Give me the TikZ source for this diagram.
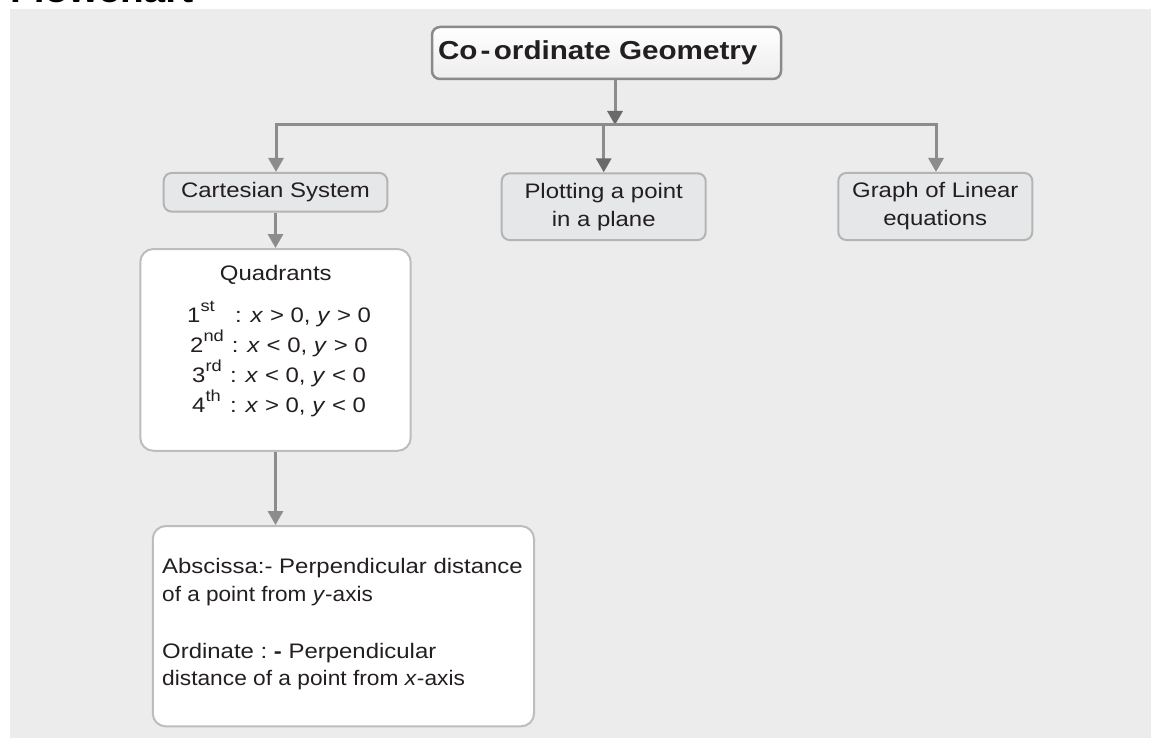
\documentclass[tikz,border=0pt]{standalone}
\usepackage{fontspec}
\usepackage{graphicx}
\setmainfont{Liberation Sans}[FakeStretch=1.14]
\usetikzlibrary{arrows.meta}
\definecolor{bg}{HTML}{ECECEC}
\definecolor{ink}{HTML}{231F20}
\definecolor{ln}{HTML}{8C8C8C}
\definecolor{hd}{HTML}{6A6A6C}
\definecolor{bxfill}{HTML}{E6E7E8}
\definecolor{bxline}{HTML}{B4B4B4}
\definecolor{wline}{HTML}{BDBDBD}
\definecolor{topline}{HTML}{8A8A8A}
\newcommand\ordn[2]{#1\raisebox{11pt}{\fontsize{16}{16}\selectfont #2}}
\begin{document}
\begin{tikzpicture}[x=1pt,y=-1pt,
  every node/.style={text=ink, font=\fontsize{21}{28}\selectfont},
  graybox/.style={draw=bxline, fill=bxfill, line width=2pt, rounded corners=8pt, inner sep=0pt, align=center},
  whitebox/.style={draw=wline, fill=white, line width=2pt, rounded corners=13pt, inner sep=0pt},
  topbox/.style={draw=topline, line width=2.5pt, rounded corners=8pt, top color=white, bottom color=gray!14, inner sep=0pt},
  conn/.style={draw=ln, line width=3pt, line join=miter},
  arr/.style={conn, -{Triangle[width=15pt,length=14pt]}},
  arrd/.style={conn, -{Triangle[width=15pt,length=14pt,color=hd]}},
  txt/.style={inner sep=0pt, anchor=base west}
]
\useasboundingbox (0,0) rectangle (1151,738);
\fill[bg] (10,9) rectangle (1151,738);
\begin{scope}
\clip (0,0) rectangle (1151,738);
\node[txt, text=black, font=\fontsize{34}{34}\selectfont\bfseries] (title) at (10,3) {Flowchart};
\end{scope}

% boxes
\node[topbox, minimum width=349pt, minimum height=52pt] (top) at (606.5,53)
  {\fontsize{26}{26}\selectfont\bfseries\makebox[337pt][l]{Co\kern3pt-\kern3.5pt ordinate Geometry}};
\node[graybox, minimum width=223.6pt, minimum height=38.7pt] (cart) at (275.5,192.3) {Cartesian System};
\node[graybox, minimum width=204pt, minimum height=66.7pt] (plot) at (603.7,206.7) {Plotting a point\\in a plane};
\node[graybox, minimum width=194pt, minimum height=67pt] (graph) at (935.3,206.5) {Graph of Linear\\equations};
\node[whitebox, minimum width=270.4pt, minimum height=201.7pt] (quad) at (275.5,349.9) {};
\node[whitebox, minimum width=381.3pt, minimum height=200.3pt] (absc) at (343.4,626.2) {};

% connectors
\coordinate (j) at (615,125);
\coordinate (hl) at (276,125);
\coordinate (hr) at (936,125);
\draw[arrd] (top.south -| j) -- (j);
\draw[arr] (j) -- (hl) -- (hl |- cart.north);
\draw[arr] (j) -- (hr) -- (hr |- graph.north);
\draw[arrd] (plot.north |- hl) -- (plot.north);
\draw[arr] (cart.south) -- (quad.north);
\draw[arr] (quad.south) -- (quad.south |- absc.north);

% quadrant texts
\node[anchor=base, inner sep=0pt] (qt) at (275.8,280) {Quadrants};
\node[txt] (q1) at (187,322) {\makebox[48pt][l]{\ordn{1}{st}}: \textit{x} > 0, \textit{y} > 0};
\node[txt] (q2) at (190,352.3) {\makebox[41.7pt][l]{\ordn{2}{nd}}: \textit{x} < 0, \textit{y} > 0};
\node[txt] (q3) at (192,382.6) {\makebox[38pt][l]{\ordn{3}{rd}}: \textit{x} < 0, \textit{y} < 0};
\node[txt] (q4) at (192,412.9) {\makebox[38pt][l]{\ordn{4}{th}}: \textit{x} > 0, \textit{y} < 0};

% abscissa / ordinate texts
\node[txt] (a1) at (162,573.3) {Abscissa:- Perpendicular distance};
\node[txt] (a2) at (162,601.7) {\scalebox{0.943}[1]{of a point from \textit{y}-axis}};
\node[txt] (o1) at (162,658.3) {Ordinate :\ \textbf{-} Perpendicular};
\node[txt] (o2) at (162,685) {\scalebox{0.95}[1]{distance of a point from \textit{x}-axis}};
\end{tikzpicture}
\end{document}
